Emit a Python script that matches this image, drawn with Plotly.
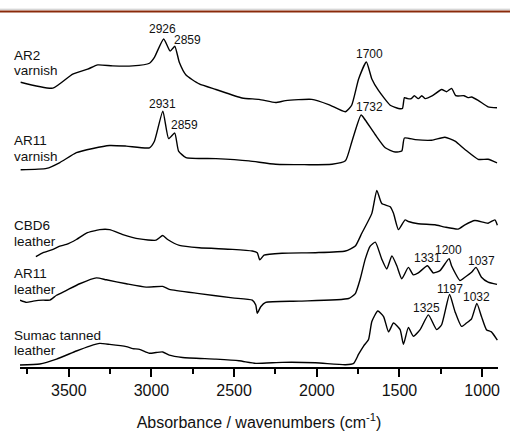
import plotly.graph_objects as go

# ---- data (wavenumber cm-1, stacked absorbance in arbitrary offset units) ----
ar2_wn = [3791, 3596, 3476, 3386, 3325, 3235, 3114, 3012, 2982, 2926, 2887, 2859, 2831, 2791,
          2711, 2610, 2452, 2349, 2249, 2189, 2030, 1928, 1827, 1789, 1747, 1700, 1667, 1627,
          1556, 1506, 1482, 1470, 1450, 1428, 1410, 1386, 1365, 1345, 1300, 1245, 1215, 1185,
          1160, 1145, 1110, 1085, 1064, 1024, 964, 910]
ar2_ab = [289.7, 283.7, 298, 303, 307.3, 306.3, 306.3, 309, 315, 333.7, 321.3, 326.3, 309.7, 297,
          288, 282.3, 273.7, 272.3, 269, 271, 272.3, 267, 259.7, 266.3, 293, 310.3, 293, 281.3,
          266.3, 263, 263, 274, 273, 273, 276, 273, 276, 273, 276, 282.3, 280, 283.5,
          276, 275.7, 276, 274, 274.7, 271.3, 264.7, 263.7]

ar11v_wn = [3791, 3634, 3554, 3454, 3354, 3253, 3152, 3012, 2982, 2931, 2896, 2859, 2836, 2791,
            2610, 2410, 2249, 1908, 1827, 1787, 1732, 1707, 1646, 1586, 1526, 1486, 1470, 1405,
            1305, 1225, 1164, 1104, 1024, 964, 910]
ar11v_ab = [200.7, 202, 208, 218, 222.3, 225.3, 224.7, 223, 229.7, 260.3, 232.3, 238, 219.7, 213,
            212, 209.7, 206.3, 206.3, 209.7, 229.7, 256.3, 251.3, 236.3, 223, 218.7, 219.7, 233, 231.3,
            230.7, 233.7, 229.7, 221.3, 211.3, 211.3, 207.7]

cbd6_wn = [3699, 3655, 3595, 3554, 3514, 3454, 3393, 3313, 3253, 3173, 3072, 2972, 2932, 2902,
           2831, 2711, 2510, 2390, 2360, 2345, 2319, 2209, 2008, 1827, 1767, 1727, 1667, 1637,
           1607, 1556, 1536, 1506, 1466, 1446, 1386, 1285, 1225, 1145, 1104, 1044, 964, 923, 908]
cbd6_ab = [112.3, 116.3, 119.7, 123, 124.7, 129.7, 136.3, 139.7, 139.7, 134.7, 130.3, 129, 133.7, 129.7,
           123.7, 121.3, 119.7, 118, 116.3, 109, 113.7, 115.7, 116.3, 118, 123, 136.3, 156.3, 179.7,
           166.3, 163, 156.3, 139.7, 149.7, 148, 145.7, 144.7, 142.3, 140.3, 144.7, 149, 146.3, 149.7, 144.3]

ar11l_wn = [3795, 3755, 3715, 3655, 3614, 3574, 3514, 3434, 3333, 3273, 3152, 3032, 2932, 2892,
            2711, 2510, 2390, 2369, 2360, 2339, 2309, 2108, 1807, 1767, 1737, 1707, 1677, 1646,
            1607, 1577, 1546, 1516, 1486, 1446, 1416, 1386, 1331, 1295, 1255, 1200, 1185, 1134,
            1104, 1064, 1037, 1004, 964, 910]
ar11l_ab = [68, 65.7, 67, 68, 68, 73, 78, 84.7, 90.7, 88.7, 84.7, 81.3, 82, 79,
            74.7, 70.3, 68, 63, 54.7, 61.3, 65.7, 67, 69.7, 74.7, 89.7, 109.7, 123, 127,
            109.7, 99.7, 113, 103, 89.7, 101.3, 93.7, 95.7, 103, 95.7, 98, 110.3, 103, 88,
            91.3, 96.3, 101.3, 91.3, 86.3, 84]

sumac_wn = [3795, 3675, 3574, 3454, 3373, 3313, 3253, 3152, 3113, 3072, 3012, 2972, 2932, 2892,
            2812, 2610, 2470, 2369, 2209, 2008, 1827, 1777, 1747, 1717, 1687, 1667, 1631, 1596,
            1566, 1536, 1496, 1476, 1446, 1416, 1375, 1325, 1275, 1245, 1197, 1164, 1125, 1095,
            1064, 1032, 1004, 974, 944, 908]
sumac_ab = [2, 3, 8, 16.3, 21.3, 24, 23, 20.7, 18.7, 18, 14, 14.7, 15.3, 12,
            9.7, 8, 6.3, 3.7, 4.7, 4.3, 2.3, 3.7, 13, 21.3, 28, 46.3, 57, 51.3,
            35.7, 44.7, 38, 23, 40.3, 31.3, 38, 53, 38, 43, 73.7, 56.3, 41.3, 44.7,
            49, 64.7, 51.3, 38, 35.7, 27.3]

series_wn = [ar2_wn, ar11v_wn, cbd6_wn, ar11l_wn, sumac_wn]
series_ab = [ar2_ab, ar11v_ab, cbd6_ab, ar11l_ab, sumac_ab]
series_names = ["AR2 varnish", "AR11 varnish", "CBD6 leather", "AR11 leather", "Sumac tanned leather"]

# left-side sample labels (two lines each) and their vertical anchors
label_lines = [("AR2", "varnish"), ("AR11", "varnish"), ("CBD6", "leather"),
               ("AR11", "leather"), ("Sumac tanned", "leather")]
label_y = [317.3, 230.3, 143.7, 94.7, 32.3]

# peak annotations
peak_text = ["2926", "2859", "1700", "2931", "2859", "1732",
             "1331", "1200", "1037", "1325", "1197", "1032"]
peak_x = [2934, 2783, 1681, 2936, 2801, 1683, 1330, 1205, 1004, 1336, 1195, 1034]
peak_y = [344, 333, 318, 268, 245.7, 264, 110.7, 118.7, 108, 59.7, 79.7, 71.3]

x_ticks = [3500, 3000, 2500, 2000, 1500, 1000]

FONT = "Arial, Liberation Sans, sans-serif"
INK = "#111111"

fig = go.Figure()
for wn, ab, nm in zip(series_wn, series_ab, series_names):
    fig.add_trace(go.Scatter(x=wn, y=ab, mode="lines", name=nm,
                             line=dict(color="black", width=1.4, shape="spline", smoothing=0.5),
                             showlegend=False))

ann = []
for (l1, l2), yy in zip(label_lines, label_y):
    ann.append(dict(x=-0.017, xref="paper", y=yy, yref="y", text=l1, showarrow=False,
                    xanchor="left", yanchor="middle", font=dict(size=13.5, color=INK, family=FONT)))
    ann.append(dict(x=-0.017, xref="paper", y=yy - 16, yref="y", text=l2, showarrow=False,
                    xanchor="left", yanchor="middle", font=dict(size=13.5, color=INK, family=FONT)))
for t, xx, yy in zip(peak_text, peak_x, peak_y):
    ann.append(dict(x=xx, y=yy, xref="x", yref="y", text=t, showarrow=False,
                    xanchor="center", yanchor="middle", font=dict(size=12, color=INK, family=FONT)))

fig.update_layout(
    width=510, height=439,
    margin=dict(l=20, r=10, t=20, b=66),
    paper_bgcolor="white", plot_bgcolor="white",
    annotations=ann,
    shapes=[
        dict(type="line", xref="paper", yref="paper", x0=-0.05, x1=1.05, y0=1.031, y1=1.031,
             line=dict(color="#c8c8c8", width=1)),
        dict(type="line", xref="paper", yref="paper", x0=-0.05, x1=1.05, y0=1.0245, y1=1.0245,
             line=dict(color="#8a2a0a", width=2)),
    ],
    xaxis=dict(range=[3795, 904], showgrid=False, zeroline=False,
               showline=True, linecolor="black", linewidth=1.5,
               tickmode="array", tickvals=x_ticks, ticks="outside", ticklen=8, tickwidth=1.5,
               tickcolor="black",
               minor=dict(dtick=250, tick0=3750, ticks="outside", ticklen=5, tickwidth=1.5, tickcolor="black"),
               tickfont=dict(size=16, color=INK, family=FONT),
               title=dict(text="Absorbance / wavenumbers (cm<sup>-1</sup>)",
                          font=dict(size=16, color=INK, family=FONT), standoff=19)),
    yaxis=dict(range=[0, 353], visible=False, showgrid=False, zeroline=False),
)

fig.write_html("out.html", config={"displayModeBar": False},
               post_script="document.body.style.margin='0';")
